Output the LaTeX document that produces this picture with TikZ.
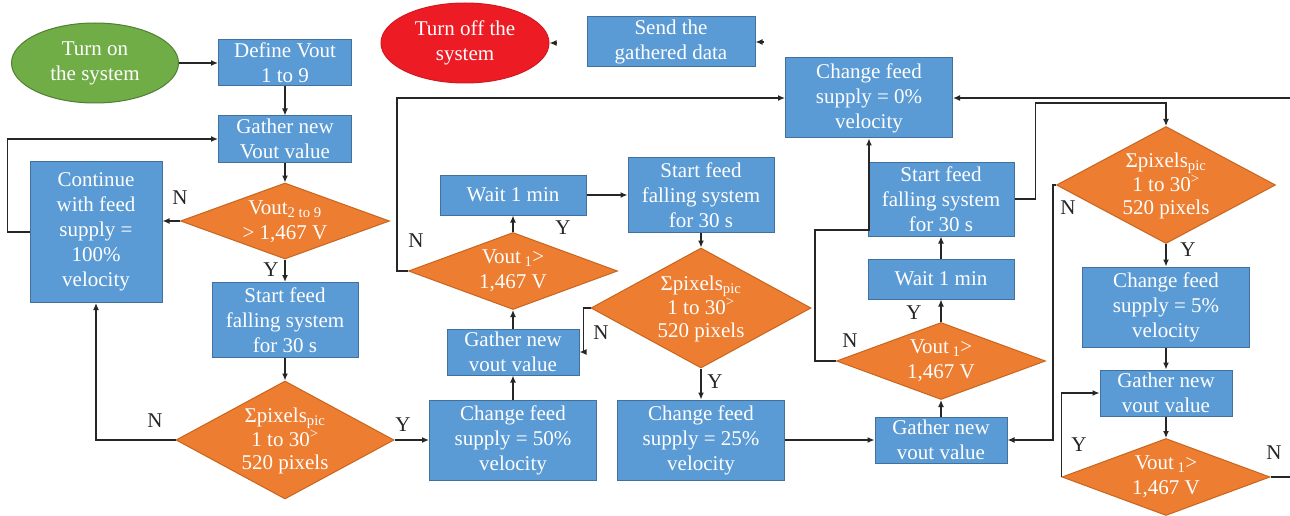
\documentclass[tikz,border=0pt]{standalone}
\usepackage{fontspec}
\setmainfont{Liberation Serif}
\usetikzlibrary{shapes.geometric,arrows.meta,calc}
\definecolor{bfill}{HTML}{5B9BD5}
\definecolor{bline}{HTML}{41719C}
\definecolor{ofill}{HTML}{ED7D31}
\definecolor{oline}{HTML}{C8651F}
\definecolor{gfill}{HTML}{70AD47}
\definecolor{gline}{HTML}{507E32}
\definecolor{rfill}{HTML}{ED1C24}
\definecolor{rline}{HTML}{D01820}
\definecolor{ink}{HTML}{262626}
\begin{document}
\begin{tikzpicture}[x=1pt,y=-1pt,
  every node/.style={font=\fontsize{21}{25}\selectfont},
  box/.style={rectangle, draw=bline, fill=bfill, line width=1pt, text=white, align=center, inner sep=0pt},
  dia/.style={diamond, draw=oline, fill=ofill, line width=1pt, inner sep=0pt},
  dtext/.style={text=white, align=center, inner sep=0pt},
  ptext/.style={dtext, font=\fontsize{21}{23.5}\selectfont},
  oval/.style={ellipse, line width=1pt, text=white, align=center, inner sep=0pt},
  lab/.style={text=ink, inner sep=0pt},
  arr/.style={draw=ink, line width=1.3pt, -{Latex[length=7pt,width=6pt]}},
  ln/.style={draw=ink, line width=1.3pt}]
\useasboundingbox (0,0) rectangle (1290,516);
\clip (0,0) rectangle (1290,516);
\fill[white] (0,0) rectangle (1290,516);

% ---- nodes ----
\node[oval, draw=gline, fill=gfill, minimum width=167, minimum height=80] (on) at (95,63) {Turn on\\the system};
\node[box, minimum width=133, minimum height=46] (def) at (285,63) {Define Vout\\1 to 9};
\node[box, minimum width=133, minimum height=46] (g1) at (285,139) {Gather new\\Vout value};
\node[dia, minimum width=209, minimum height=76] (d1) at (285,221) {};
\node[dtext] (d1t) at (285,222) {Vout\textsubscript{2 to 9}\\> 1,467 V};
\node[box, minimum width=132, minimum height=141] (cont) at (96,232) {Continue\\with feed\\supply =\\100\%\\velocity};
\node[box, minimum width=146, minimum height=75] (s1) at (285,320) {Start feed\\falling system\\for 30 s};
\node[dia, minimum width=218, minimum height=118] (p1) at (285,440) {};
\node[ptext] (p1t) at (285,441) {Σpixels\textsubscript{pic}\\1 to 30\textsuperscript{>}\\520 pixels};
\node[box, minimum width=167, minimum height=80] (c50) at (513,440) {Change feed\\supply = 50\%\\velocity};
\node[box, minimum width=132, minimum height=46] (g2) at (513,352) {Gather new\\vout value};
\node[dia, minimum width=209, minimum height=77] (v1) at (513,271) {};
\node[dtext] (v1t) at (513,271) {Vout\,\textsubscript{1}>\\1,467 V};
\node[box, minimum width=146, minimum height=40] (w1) at (513,195) {Wait 1 min};
\node[box, minimum width=146, minimum height=75] (s2) at (701,195) {Start feed\\falling system\\for 30 s};
\node[dia, minimum width=220, minimum height=120] (p2) at (701,308) {};
\node[ptext] (p2t) at (701,309) {Σpixels\textsubscript{pic}\\1 to 30\textsuperscript{>}\\520 pixels};
\node[box, minimum width=167, minimum height=80] (c25) at (701,440) {Change feed\\supply = 25\%\\velocity};
\node[box, minimum width=132, minimum height=46] (g3) at (941,440) {Gather new\\vout value};
\node[dia, minimum width=209, minimum height=77] (v2) at (941,361) {};
\node[dtext] (v2t) at (941,361) {Vout\,\textsubscript{1}>\\1,467 V};
\node[box, minimum width=146, minimum height=40] (w2) at (941,279) {Wait 1 min};
\node[box, minimum width=146, minimum height=74] (s3) at (941,199) {Start feed\\falling system\\for 30 s};
\node[box, minimum width=167, minimum height=80] (c0) at (869,98) {Change feed\\supply = 0\%\\velocity};
\node[dia, minimum width=219, minimum height=117] (p3) at (1166,185) {};
\node[ptext] (p3t) at (1166,186) {Σpixels\textsubscript{pic}\\1 to 30\textsuperscript{>}\\520 pixels};
\node[box, minimum width=167, minimum height=80] (c5) at (1166,307) {Change feed\\supply = 5\%\\velocity};
\node[box, minimum width=132, minimum height=46] (g4) at (1166,393) {Gather new\\vout value};
\node[dia, minimum width=208, minimum height=77] (v3) at (1166,477) {};
\node[dtext] (v3t) at (1166,477) {Vout\,\textsubscript{1}>\\1,467 V};
\node[oval, draw=rline, fill=rfill, minimum width=168, minimum height=80] (off) at (465,43) {Turn off the\\system};
\node[box, minimum width=168, minimum height=50] (send) at (671,42) {Send the\\gathered data};

% ---- helper coordinates ----
\coordinate (k1) at (815,230);
\coordinate (k2) at (1166,103);
\coordinate (edge) at (1300,477);
\coordinate (offin) at ($(off.east)+(7,0)$);
\coordinate (sendin) at ($(send.east)+(8,0)$);

% ---- connectors ----
\draw[arr] (on.east) -- (def.west);
\draw[arr] (def.south) -- (g1.north);
\draw[arr] (g1.south) -- (d1.north);
\draw[arr] (d1.west) -- (d1.west -| cont.east);
\draw[arr] (cont.west) -- ++(-22,0) |- (g1.west);
\draw[arr] (d1.south) -- (s1.north);
\draw[arr] (s1.south) -- (p1.north);
\draw[arr] (p1.west) -| (cont.south);
\draw[arr] (p1.east) -- (c50.west);
\draw[arr] (c50.north) -- (g2.south);
\draw[arr] (g2.north) -- (v1.south);
\draw[arr] (v1.north) -- (w1.south);
\draw[arr] (v1.west) -- ++(-11,0) |- (c0.west);
\draw[arr] (w1.east) -- (s2.west);
\draw[arr] (s2.south) -- (p2.north);
\draw[arr] (p2.west) -- ++(-7,0) |- (g2.east);
\draw[arr] (p2.south) -- (c25.north);
\draw[arr] (c25.east) -- (g3.west);
\draw[arr] (g3.north) -- (v2.south);
\draw[arr] (v2.north) -- (w2.south);
\draw[arr] (w2.north) -- (s3.south);
\draw[arr] (v2.west) -| (k1) -| (c0.south);
\draw[arr] (s3.east) -- ++(21,0) |- (k2) -- (p3.north);
\draw[arr] (p3.west) -- ++(-3,0) |- (g3.east);
\draw[arr] (p3.south) -- (c5.north);
\draw[arr] (c5.south) -- (g4.north);
\draw[arr] (g4.south) -- (v3.north);
\draw[arr] (v3.west) |- (g4.west);
\draw[arr] (v3.east) -- (edge) |- (c0.east);
\draw[arr] (offin) -- (off.east);
\draw[arr] (sendin) -- (send.east);

% ---- labels ----
\node[lab] (n1) at (180,198) {N};
\node[lab] (y1) at (271,270) {Y};
\node[lab] (n2) at (155,421) {N};
\node[lab] (y2) at (403,425) {Y};
\node[lab] (y3) at (563,228) {Y};
\node[lab] (n3) at (416,241) {N};
\node[lab] (n4) at (601,333) {N};
\node[lab] (y4) at (715,382) {Y};
\node[lab] (y5) at (914,313) {Y};
\node[lab] (n5) at (850,341) {N};
\node[lab] (n6) at (1068,208) {N};
\node[lab] (y6) at (1188,250) {Y};
\node[lab] (y7) at (1079,445) {Y};
\node[lab] (n7) at (1274,453) {N};
\end{tikzpicture}
\end{document}
